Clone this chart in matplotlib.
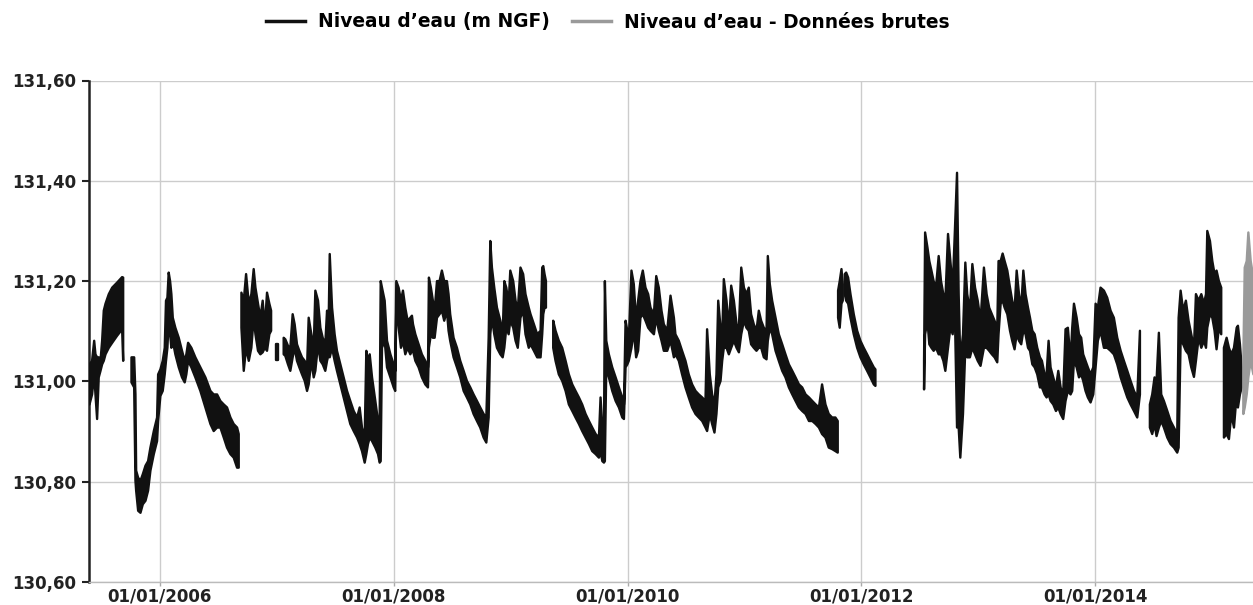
import matplotlib
matplotlib.use("Agg")
import matplotlib.pyplot as plt
from matplotlib.lines import Line2D
import numpy as np
import pandas as pd

# water level series as (decimal year, low, high) envelopes
# each block is one continuous run of measurements (gaps between blocks)
t_a = [2005.393, 2005.415, 2005.433, 2005.444, 2005.458, 2005.472, 2005.487, 2005.501,
       2005.515, 2005.530, 2005.558, 2005.587, 2005.629, 2005.672, 2005.681]
hi_a = [131.035, 131.042, 131.082, 131.055, 131.049, 131.049, 131.042, 131.082,
        131.142, 131.156, 131.175, 131.188, 131.198, 131.209, 131.208]
lo_a = [130.955, 130.975, 131.015, 130.975, 130.926, 131.009, 131.022, 131.035,
        131.042, 131.055, 131.068, 131.078, 131.092, 131.105, 131.042]

t_b = [2005.752, 2005.775, 2005.786, 2005.792, 2005.809, 2005.829, 2005.849, 2005.872,
       2005.894, 2005.914, 2005.943, 2005.971, 2005.980, 2006.000, 2006.020, 2006.037,
       2006.048, 2006.060, 2006.071, 2006.083, 2006.094, 2006.106, 2006.128, 2006.157,
       2006.185, 2006.208, 2006.222, 2006.237, 2006.265, 2006.299, 2006.342, 2006.385,
       2006.428, 2006.456, 2006.485, 2006.513, 2006.542, 2006.570, 2006.599, 2006.627,
       2006.656, 2006.670]
hi_b = [131.049, 131.049, 130.975, 130.823, 130.809, 130.803, 130.816, 130.833,
        130.842, 130.869, 130.902, 130.929, 131.015, 131.025, 131.042, 131.068,
        131.162, 131.168, 131.218, 131.201, 131.175, 131.128, 131.108, 131.088,
        131.062, 131.042, 131.055, 131.078, 131.068, 131.049, 131.029, 131.009,
        130.982, 130.975, 130.975, 130.962, 130.955, 130.949, 130.929, 130.916,
        130.909, 130.896]
lo_b = [130.999, 130.989, 130.803, 130.783, 130.743, 130.739, 130.756, 130.763,
        130.783, 130.823, 130.856, 130.882, 130.922, 130.972, 130.982, 131.015,
        131.042, 131.068, 131.122, 131.095, 131.068, 131.082, 131.055, 131.029,
        131.009, 130.999, 131.015, 131.042, 131.029, 131.009, 130.982, 130.949,
        130.916, 130.902, 130.909, 130.909, 130.889, 130.869, 130.856, 130.849,
        130.829, 130.829]

t_c = [2006.693, 2006.713, 2006.733, 2006.756, 2006.778, 2006.798, 2006.813, 2006.835,
       2006.855, 2006.875, 2006.893, 2006.912, 2006.932, 2006.947]
hi_c = [131.178, 131.162, 131.215, 131.156, 131.175, 131.225, 131.188, 131.156,
        131.128, 131.162, 131.108, 131.178, 131.156, 131.142]
lo_c = [131.108, 131.022, 131.068, 131.042, 131.068, 131.128, 131.095, 131.062,
        131.055, 131.059, 131.068, 131.062, 131.095, 131.102]

t_c2 = [2006.989, 2007.012]
hi_c2 = [131.075, 131.075]
lo_c2 = [131.042, 131.042]

t_d = [2007.055, 2007.069, 2007.092, 2007.112, 2007.132, 2007.149, 2007.169, 2007.189,
       2007.212, 2007.235, 2007.255, 2007.269, 2007.292, 2007.312, 2007.326, 2007.349,
       2007.369, 2007.389, 2007.411, 2007.426, 2007.440, 2007.449, 2007.469, 2007.491,
       2007.511, 2007.540, 2007.568, 2007.597, 2007.625, 2007.654, 2007.683, 2007.705,
       2007.725, 2007.748, 2007.762, 2007.776, 2007.791, 2007.811, 2007.839, 2007.862,
       2007.876, 2007.885, 2007.896, 2007.919,
       2007.939, 2007.968, 2007.996, 2008.010, 2008.019, 2008.039, 2008.059, 2008.076,
       2008.096, 2008.116, 2008.139, 2008.153, 2008.162, 2008.182, 2008.210, 2008.238,
       2008.267, 2008.290, 2008.298, 2008.315, 2008.332, 2008.347, 2008.367, 2008.389,
       2008.409, 2008.429, 2008.452, 2008.466, 2008.480, 2008.509, 2008.538, 2008.566,
       2008.595, 2008.623, 2008.652, 2008.680, 2008.709, 2008.737, 2008.766, 2008.789,
       2008.809, 2008.823, 2008.837, 2008.857, 2008.880, 2008.909, 2008.929, 2008.943,
       2008.960, 2008.980, 2008.994, 2009.017, 2009.037, 2009.056, 2009.079, 2009.102,
       2009.122, 2009.150,
       2009.165, 2009.194, 2009.222, 2009.251, 2009.265, 2009.274, 2009.285, 2009.297]
hi_d = [131.088, 131.085, 131.072, 131.068, 131.135, 131.115, 131.075, 131.062,
        131.049, 131.042, 131.029, 131.128, 131.095, 131.068, 131.182, 131.162,
        131.108, 131.088, 131.075, 131.142, 131.122, 131.255, 131.148, 131.095,
        131.062, 131.035, 131.009, 130.982, 130.962, 130.942, 130.929, 130.949,
        130.909, 130.889, 131.062, 131.042, 131.055, 131.009, 130.962, 130.922,
        130.922, 131.201, 131.188, 131.162,
        131.082, 131.055, 131.035, 131.022, 131.201, 131.188, 131.162, 131.182,
        131.148, 131.122, 131.128, 131.132, 131.115, 131.095, 131.075, 131.055,
        131.042, 131.029, 131.208, 131.188, 131.162, 131.142, 131.201, 131.201,
        131.222, 131.201, 131.201, 131.175, 131.135, 131.088, 131.068, 131.042,
        131.022, 131.002, 130.989, 130.975, 130.962, 130.949, 130.936, 130.929,
        131.088, 131.281, 131.228, 131.188, 131.148, 131.122, 131.095, 131.201,
        131.188, 131.156, 131.222, 131.201, 131.162, 131.142, 131.228, 131.215,
        131.175, 131.148,
        131.135, 131.115, 131.095, 131.102, 131.228, 131.231, 131.215, 131.201]
lo_d = [131.055, 131.052, 131.035, 131.022, 131.049, 131.068, 131.042, 131.029,
        131.015, 131.002, 130.982, 130.995, 131.042, 131.009, 131.022, 131.075,
        131.042, 131.035, 131.022, 131.042, 131.055, 131.049, 131.068, 131.042,
        131.022, 130.995, 130.969, 130.942, 130.916, 130.902, 130.889, 130.876,
        130.862, 130.839, 130.856, 130.876, 130.889, 130.882, 130.869, 130.856,
        130.839, 130.842, 131.068, 131.082,
        131.029, 131.009, 130.989, 130.982, 131.156, 131.108, 131.068, 131.082,
        131.055, 131.068, 131.055, 131.062, 131.062, 131.042, 131.029, 131.009,
        130.995, 130.989, 131.068, 131.095, 131.088, 131.088, 131.128, 131.135,
        131.142, 131.122, 131.142, 131.102, 131.082, 131.049, 131.029, 131.009,
        130.982, 130.969, 130.955, 130.936, 130.922, 130.909, 130.889, 130.879,
        130.929, 131.095, 131.128, 131.095, 131.068, 131.055, 131.049, 131.068,
        131.108, 131.095, 131.122, 131.108, 131.082, 131.068, 131.128, 131.142,
        131.095, 131.068,
        131.075, 131.062, 131.049, 131.049, 131.095, 131.135, 131.148, 131.148]

t_e = [2009.359, 2009.379, 2009.407, 2009.436, 2009.465, 2009.493, 2009.522, 2009.550,
       2009.579, 2009.607, 2009.636, 2009.665, 2009.693, 2009.722, 2009.750, 2009.764,
       2009.779, 2009.793, 2009.801, 2009.813, 2009.835, 2009.864, 2009.893, 2009.921,
       2009.950, 2009.964, 2009.978, 2009.993, 2010.006, 2010.029, 2010.049, 2010.069,
       2010.086, 2010.106, 2010.126, 2010.149, 2010.172, 2010.192, 2010.221, 2010.241,
       2010.263, 2010.286, 2010.306, 2010.335, 2010.363, 2010.392,
       2010.405, 2010.434, 2010.462, 2010.491, 2010.519, 2010.548, 2010.577, 2010.605,
       2010.634, 2010.662, 2010.676, 2010.699, 2010.719, 2010.739, 2010.756, 2010.771,
       2010.791, 2010.805, 2010.819, 2010.842, 2010.862, 2010.882, 2010.905, 2010.928,
       2010.948, 2010.968, 2010.991, 2011.013, 2011.033, 2011.053, 2011.076, 2011.099,
       2011.119, 2011.139, 2011.162, 2011.185, 2011.196, 2011.213, 2011.233, 2011.262,
       2011.290, 2011.319, 2011.347, 2011.376, 2011.405, 2011.433, 2011.462, 2011.490,
       2011.519, 2011.548, 2011.576, 2011.605, 2011.633,
       2011.660, 2011.689, 2011.717, 2011.746, 2011.774, 2011.794]
hi_e = [131.122, 131.102, 131.082, 131.068, 131.042, 131.015, 130.995, 130.982,
        130.969, 130.955, 130.936, 130.922, 130.909, 130.896, 130.889, 130.969,
        130.909, 130.876, 131.201, 131.082, 131.055, 131.029, 131.009, 130.989,
        130.969, 130.955, 131.122, 131.102, 131.082, 131.222, 131.195, 131.122,
        131.162, 131.201, 131.222, 131.188, 131.175, 131.148, 131.135, 131.211,
        131.188, 131.142, 131.115, 131.102, 131.172, 131.128,
        131.095, 131.082, 131.062, 131.042, 131.015, 130.995, 130.982, 130.975,
        130.969, 130.962, 131.105, 131.015, 130.975, 130.955, 131.015, 131.162,
        131.108, 131.088, 131.205, 131.162, 131.108, 131.192, 131.162, 131.115,
        131.108, 131.228, 131.188, 131.175, 131.188, 131.135, 131.115, 131.102,
        131.142, 131.122, 131.108, 131.102, 131.251, 131.195, 131.162, 131.128,
        131.095, 131.075, 131.055, 131.035, 131.022, 131.009, 130.995, 130.989,
        130.975, 130.969, 130.962, 130.955, 130.949,
        130.995, 130.955, 130.936, 130.929, 130.929, 130.922]
lo_e = [131.068, 131.042, 131.015, 131.002, 130.982, 130.955, 130.942, 130.929,
        130.916, 130.902, 130.889, 130.876, 130.862, 130.856, 130.849, 130.862,
        130.842, 130.839, 130.842, 131.029, 131.009, 130.982, 130.962, 130.949,
        130.929, 130.926, 131.029, 131.035, 131.042, 131.068, 131.102, 131.049,
        131.062, 131.128, 131.135, 131.122, 131.108, 131.102, 131.095, 131.128,
        131.102, 131.082, 131.062, 131.062, 131.082, 131.049,
        131.055, 131.042, 131.015, 130.989, 130.969, 130.949, 130.936, 130.929,
        130.922, 130.909, 130.902, 130.936, 130.916, 130.899, 130.936, 130.989,
        131.002, 131.042, 131.068, 131.068, 131.055, 131.068, 131.082, 131.068,
        131.059, 131.095, 131.122, 131.108, 131.102, 131.075, 131.068, 131.062,
        131.068, 131.068, 131.049, 131.045, 131.082, 131.108, 131.095, 131.062,
        131.042, 131.022, 131.009, 130.989, 130.975, 130.962, 130.949, 130.942,
        130.936, 130.922, 130.922, 130.916, 130.909,
        130.896, 130.889, 130.869, 130.866, 130.862, 130.859]

t_f1 = [2011.797, 2011.811, 2011.826, 2011.837]
hi_f1 = [131.182, 131.201, 131.225, 131.195]
lo_f1 = [131.128, 131.108, 131.156, 131.162]

t_f2 = [2011.854, 2011.866, 2011.883, 2011.903, 2011.931, 2011.960, 2011.988, 2012.017,
        2012.046, 2012.074, 2012.103, 2012.117]
hi_f2 = [131.215, 131.218, 131.208, 131.175, 131.135, 131.102, 131.082, 131.068,
         131.055, 131.042, 131.029, 131.025]
lo_f2 = [131.175, 131.162, 131.156, 131.128, 131.095, 131.068, 131.049, 131.035,
         131.022, 131.009, 130.995, 130.992]

t_g = [2012.533, 2012.542, 2012.562, 2012.578, 2012.596, 2012.615, 2012.635, 2012.658,
       2012.678, 2012.698, 2012.715, 2012.738, 2012.758, 2012.778, 2012.795, 2012.815,
       2012.829, 2012.843,
       2012.866, 2012.886, 2012.902, 2012.925, 2012.946, 2012.969, 2012.992, 2013.014,
       2013.043, 2013.066, 2013.088, 2013.111, 2013.134, 2013.157, 2013.168, 2013.186,
       2013.203, 2013.220, 2013.243, 2013.266, 2013.285, 2013.305, 2013.323, 2013.343,
       2013.362, 2013.380, 2013.399, 2013.420, 2013.437, 2013.457, 2013.477, 2013.499,
       2013.522, 2013.539, 2013.562, 2013.579, 2013.596, 2013.613, 2013.636, 2013.659,
       2013.679, 2013.699, 2013.721, 2013.741, 2013.761, 2013.784, 2013.798, 2013.813,
       2013.836, 2013.856, 2013.875, 2013.892, 2013.912, 2013.932, 2013.955, 2013.978,
       2013.998, 2014.018, 2014.041,
       2014.070, 2014.098, 2014.127, 2014.155, 2014.184, 2014.213, 2014.241, 2014.270,
       2014.298, 2014.327, 2014.355, 2014.378]
hi_g = [131.042, 131.298, 131.268, 131.241, 131.222, 131.201, 131.188, 131.251,
        131.201, 131.175, 131.162, 131.295, 131.241, 131.188, 131.291, 131.417,
        131.175, 131.042,
        131.095, 131.238, 131.175, 131.142, 131.235, 131.188, 131.162, 131.122,
        131.228, 131.175, 131.148, 131.135, 131.122, 131.108, 131.241, 131.241,
        131.256, 131.241, 131.222, 131.188, 131.162, 131.142, 131.222, 131.175,
        131.148, 131.222, 131.175, 131.148, 131.128, 131.102, 131.095, 131.068,
        131.049, 131.042, 131.015, 131.015, 131.082, 131.029, 131.009, 130.989,
        131.022, 130.989, 130.975, 131.105, 131.108, 131.042, 131.108, 131.156,
        131.128, 131.095, 131.088, 131.055, 131.042, 131.029, 131.015, 131.029,
        131.156, 131.148, 131.188,
        131.182, 131.168, 131.142, 131.128, 131.088, 131.062, 131.042, 131.022,
        131.002, 130.982, 130.969, 131.102]
lo_g = [130.985, 131.095, 131.122, 131.075, 131.068, 131.062, 131.068, 131.055,
        131.055, 131.042, 131.022, 131.068, 131.108, 131.095, 131.156, 130.909,
        130.909, 130.849,
        130.936, 131.068, 131.049, 131.049, 131.068, 131.055, 131.042, 131.032,
        131.068, 131.068, 131.062, 131.055, 131.049, 131.039, 131.095, 131.156,
        131.162, 131.148, 131.135, 131.102, 131.082, 131.065, 131.095, 131.082,
        131.075, 131.102, 131.095, 131.068, 131.062, 131.035, 131.029, 131.015,
        130.989, 130.989, 130.975, 130.969, 130.975, 130.962, 130.955, 130.942,
        130.949, 130.936, 130.926, 130.962, 130.982, 130.975, 130.982, 131.042,
        131.029, 131.009, 131.015, 131.002, 130.982, 130.969, 130.959, 130.975,
        131.029, 131.082, 131.102,
        131.068, 131.068, 131.062, 131.055, 131.035, 131.009, 130.989, 130.969,
        130.955, 130.942, 130.929, 130.975]

t_h = [2014.463, 2014.483, 2014.503, 2014.520, 2014.540, 2014.560, 2014.583, 2014.612,
       2014.640, 2014.669, 2014.697, 2014.709, 2014.726, 2014.748, 2014.771, 2014.794,
       2014.817, 2014.840, 2014.857, 2014.880, 2014.903, 2014.926, 2014.943, 2014.954,
       2014.977, 2014.997, 2015.017, 2015.034, 2015.054, 2015.074]
hi_h = [130.955, 130.975, 131.009, 131.002, 131.098, 130.975, 130.962, 130.942,
        130.922, 130.909, 130.896, 131.128, 131.182, 131.142, 131.162, 131.122,
        131.095, 131.068, 131.175, 131.162, 131.175, 131.156, 131.175, 131.301,
        131.281, 131.241, 131.215, 131.222, 131.201, 131.188]
lo_h = [130.909, 130.896, 130.916, 130.892, 130.909, 130.922, 130.909, 130.889,
        130.876, 130.869, 130.859, 130.869, 131.082, 131.075, 131.062, 131.055,
        131.029, 131.010, 131.042, 131.088, 131.068, 131.082, 131.068, 131.108,
        131.135, 131.128, 131.102, 131.065, 131.108, 131.095]

t_i = [2015.097, 2015.120, 2015.140, 2015.160, 2015.183, 2015.206, 2015.217, 2015.234,
       2015.249]
hi_i = [131.068, 131.088, 131.068, 131.055, 131.068, 131.108, 131.112, 131.075, 131.029]
lo_i = [130.889, 130.896, 130.886, 130.936, 130.909, 130.975, 130.949, 130.975, 130.989]

# raw data (grey), only visible at the end of the record
t_raw = [2015.263, 2015.275, 2015.292, 2015.306, 2015.326, 2015.349]
hi_raw = [131.042, 131.228, 131.241, 131.298, 131.241, 131.208]
lo_raw = [130.936, 130.949, 130.975, 131.009, 131.042, 131.015]

y_ticks = [130.60, 130.80, 131.00, 131.20, 131.40, 131.60]
x_tick_years = [2006, 2008, 2010, 2012, 2014]
x_range = [2005.393, 2015.350]

label_main = "Niveau d\u2019eau (m NGF)"
label_raw = "Niveau d\u2019eau - Donn\u00e9es brutes"


def to_dates(years):
    out = []
    for y in years:
        whole = int(np.floor(y))
        out.append(pd.Timestamp(year=whole, month=1, day=1)
                   + pd.Timedelta(days=(y - whole) * 365.25))
    return out


def main():
    plt.rcParams["font.family"] = ["DejaVu Sans"]
    plt.rcParams["font.weight"] = "bold"

    fig = plt.figure(figsize=(12.53, 6.05), dpi=100)
    ax = fig.add_axes([89 / 1253, 23 / 605, 1 - 89 / 1253, 501.5 / 605])

    black = "#111111"
    grey = "#9a9a9a"
    segments = [(t_a, lo_a, hi_a), (t_b, lo_b, hi_b), (t_c, lo_c, hi_c),
                (t_c2, lo_c2, hi_c2), (t_d, lo_d, hi_d), (t_e, lo_e, hi_e),
                (t_f1, lo_f1, hi_f1), (t_f2, lo_f2, hi_f2), (t_g, lo_g, hi_g),
                (t_h, lo_h, hi_h), (t_i, lo_i, hi_i)]
    for t, lo, hi in segments:
        ax.fill_between(to_dates(t), lo, hi, facecolor=black, edgecolor=black,
                        linewidth=1.7, zorder=3)
    ax.fill_between(to_dates(t_raw), lo_raw, hi_raw, facecolor=grey, edgecolor=grey,
                    linewidth=1.7, zorder=3)

    ax.set_ylim(y_ticks[0], y_ticks[-1])
    ax.set_yticks(y_ticks)
    ax.set_yticklabels([f"{v:.2f}".replace(".", ",") for v in y_ticks])

    ax.set_xlim(to_dates(x_range))
    xt = [pd.Timestamp(year=y, month=1, day=1) for y in x_tick_years]
    ax.set_xticks(xt)
    ax.set_xticklabels([d.strftime("%d/%m/%Y") for d in xt])

    ax.grid(True, color="#cccccc", linewidth=1.0, zorder=0)
    ax.set_axisbelow(True)
    for side in ["top", "right"]:
        ax.spines[side].set_visible(False)
    ax.spines["left"].set_color("#222222")
    ax.spines["left"].set_linewidth(1.8)
    ax.spines["bottom"].set_color("#bbbbbb")
    ax.spines["bottom"].set_linewidth(1.0)

    ax.tick_params(axis="y", length=5, width=1.5, color="#222222", pad=4,
                   labelsize=12, labelcolor="#222222")
    ax.tick_params(axis="x", length=3, width=1.0, color="#aaaaaa", pad=1,
                   labelsize=12, labelcolor="#222222")

    handles = [Line2D([], [], color=black, lw=2.5), Line2D([], [], color=grey, lw=2.5)]
    fig.legend(handles, [label_main, label_raw], loc="center",
               bbox_to_anchor=(608 / 1253, 1 - 22 / 605), ncol=2, frameon=False,
               prop={"weight": "bold", "size": 13.4}, handlelength=2.1,
               handletextpad=0.7, columnspacing=1.2)

    fig.savefig("out.png", dpi=100)


if __name__ == "__main__":
    main()
